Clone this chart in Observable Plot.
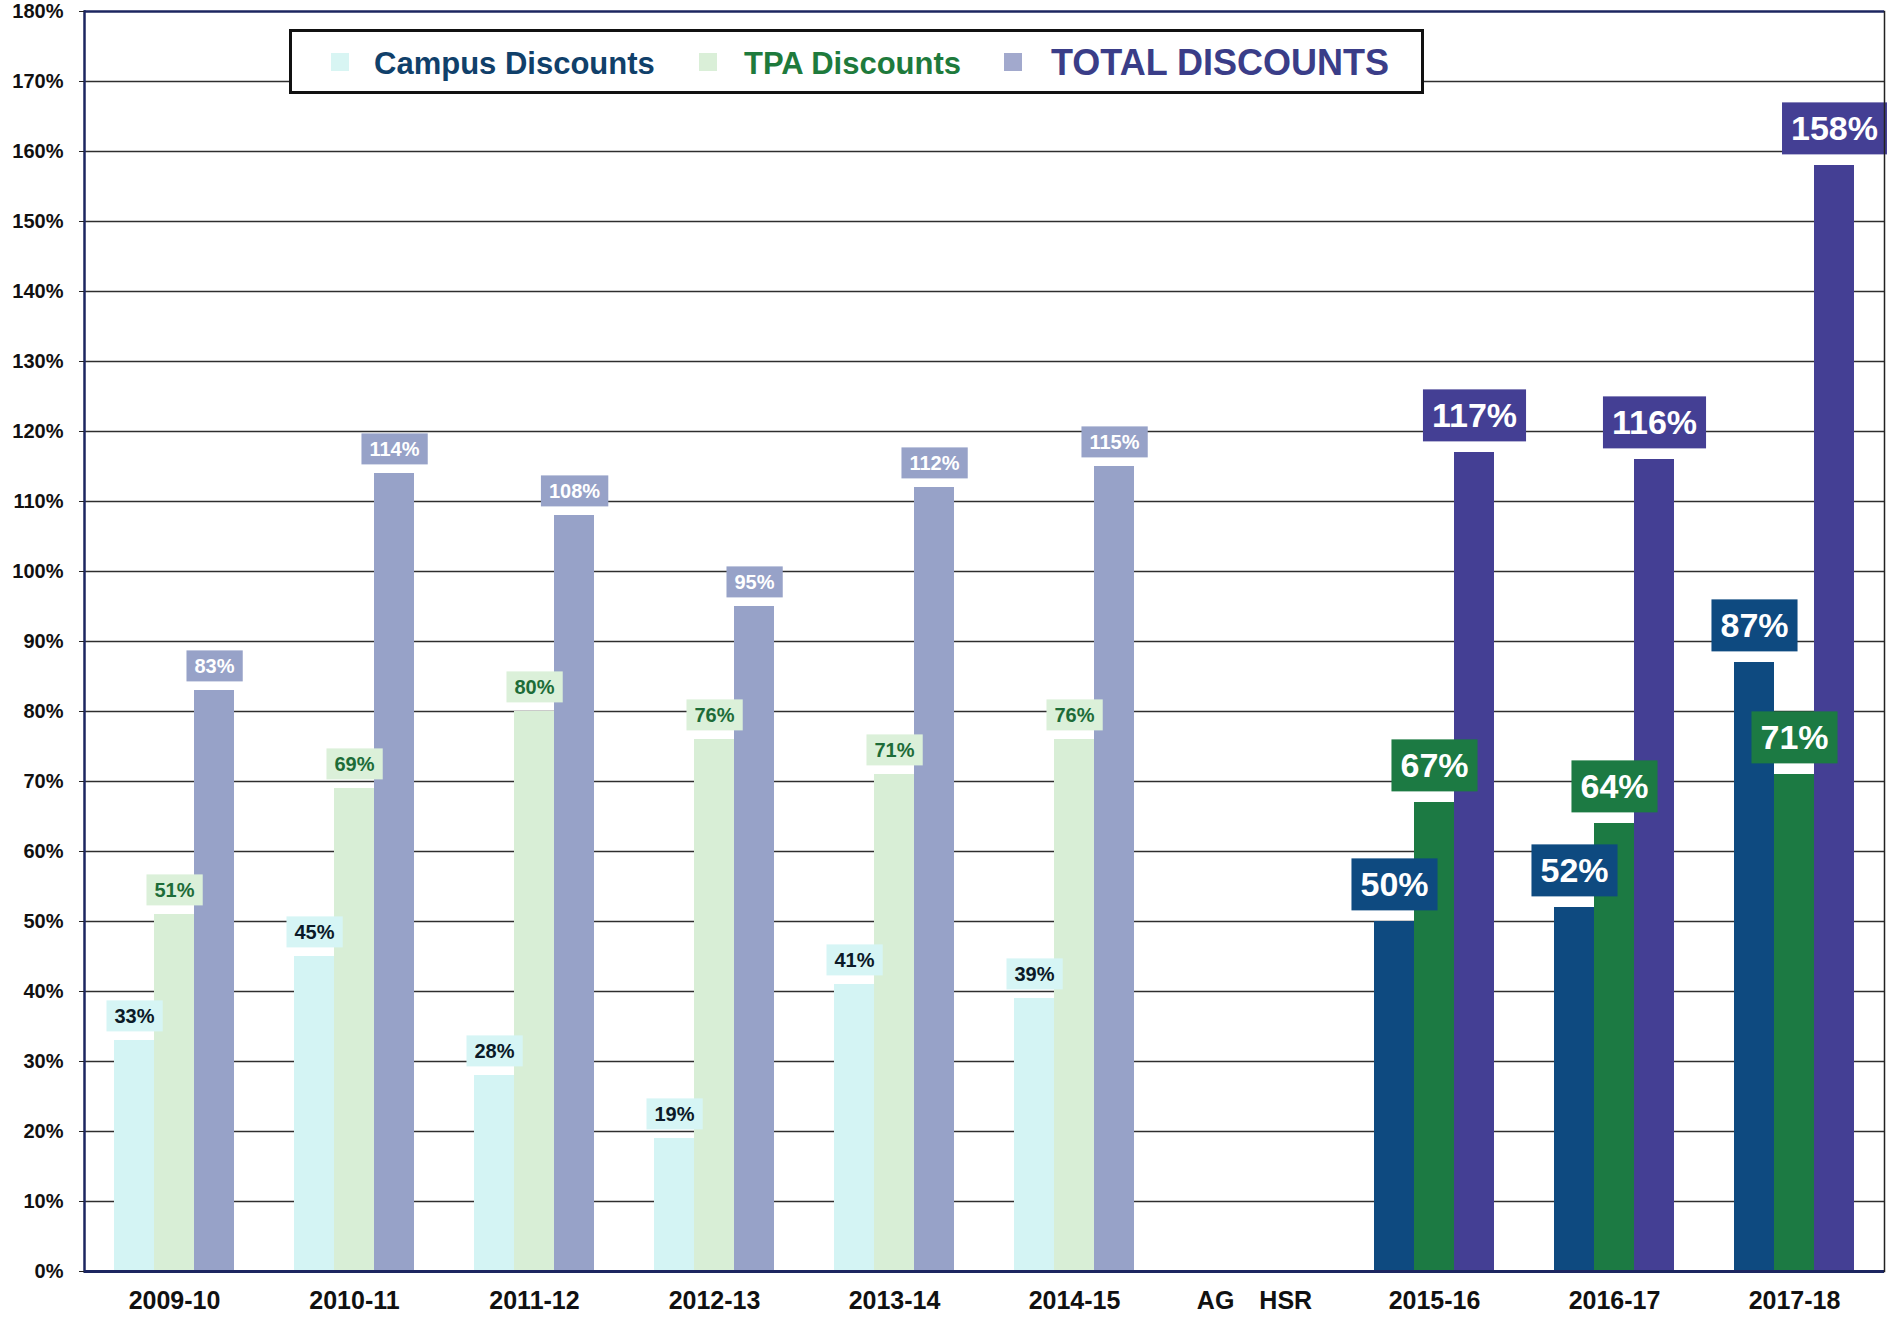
<!DOCTYPE html>
<html>
<head>
<meta charset="utf-8">
<script src="https://cdn.jsdelivr.net/npm/d3@7"></script>
<script src="https://cdn.jsdelivr.net/npm/@observablehq/plot@0.6"></script>
<style>
  html, body { margin: 0; padding: 0; background: #fff; }
  #wrap { position: relative; width: 1890px; height: 1317px; font-family: "Liberation Sans", Arial, sans-serif; }
  #chart svg { display: block; overflow: visible; }
  #legend { position: absolute; left: 289px; top: 29px; width: 1129px; height: 59px; border: 3px solid #111; background: #fff; }
  #legend .sw { position: absolute; top: 50%; width: 18px; height: 18px; transform: translateY(-50%); }
  #legend .lt { position: absolute; top: 50%; transform: translateY(-46%); font-weight: bold; white-space: nowrap; line-height: 1; }
</style>
</head>
<body>
<div id="wrap">
  <div id="chart"></div>
  <div id="legend"></div>
</div>
<script>
// ---- data ----
const years = ["2009-10", "2010-11", "2011-12", "2012-13", "2013-14", "2014-15", "AG HSR", "2015-16", "2016-17", "2017-18"];
const periods = ["old", "old", "old", "old", "old", "old", "gap", "new", "new", "new"];
const campusDiscounts = [33, 45, 28, 19, 41, 39, null, 50, 52, 87];
const tpaDiscounts = [51, 69, 80, 76, 71, 76, null, 67, 64, 71];
const totalDiscounts = [83, 114, 108, 95, 112, 115, null, 117, 116, 158];
const seriesNames = ["Campus Discounts", "TPA Discounts", "TOTAL DISCOUNTS"];
const yTicks = [0, 10, 20, 30, 40, 50, 60, 70, 80, 90, 100, 110, 120, 130, 140, 150, 160, 170, 180];

// ---- styles ----
const barColors = {
  "Campus Discounts|old": "#d4f4f4",
  "TPA Discounts|old": "#d8eed6",
  "TOTAL DISCOUNTS|old": "#97a2c8",
  "Campus Discounts|new": "#0e4a80",
  "TPA Discounts|new": "#1c7a43",
  "TOTAL DISCOUNTS|new": "#443f94"
};
const labelText = {
  "Campus Discounts|old": "#0b1a28",
  "TPA Discounts|old": "#1d6c38",
  "TOTAL DISCOUNTS|old": "#ffffff",
  "Campus Discounts|new": "#ffffff",
  "TPA Discounts|new": "#ffffff",
  "TOTAL DISCOUNTS|new": "#ffffff"
};
const navy = "#1c2660";

const valuesBySeries = [campusDiscounts, tpaDiscounts, totalDiscounts];
// every year (also the empty "AG HSR" slot) gets rows so that no facet is empty
const rows = [];
years.forEach((y, i) => {
  seriesNames.forEach((s, j) => {
    rows.push({year: y, series: s, value: valuesBySeries[j][i], period: periods[i], key: s + "|" + periods[i]});
  });
});
const valid = rows.filter(d => d.value != null);

const keys = Object.keys(barColors);
const labelMarks = keys.map(k => {
  const isNew = k.endsWith("|new");
  return Plot.text(valid.filter(d => d.key === k), {
    fx: "year", x: "series", y: "value",
    text: d => d.value + "%",
    dy: isNew ? -36 : -24,
    fontSize: isNew ? 34 : 20,
    fontWeight: "bold",
    fill: labelText[k],
    ariaDescription: "lbl:" + k
  });
});

const chart = Plot.plot({
  width: 1890,
  height: 1317,
  marginTop: 11,
  marginBottom: 46,
  marginLeft: 80,
  marginRight: 3,
  style: {fontFamily: "'Liberation Sans', Arial, sans-serif", background: "transparent", color: "#111"},
  fx: {domain: years, padding: 0, label: null},
  x: {domain: seriesNames, paddingInner: 0, paddingOuter: 0.72, axis: null},
  y: {domain: [0, 180], label: null},
  color: {domain: keys, range: keys.map(k => barColors[k])},
  marks: [
    Plot.gridY(yTicks.filter(t => t > 0 && t < 180), {stroke: "#2e2e2e", strokeOpacity: 1, strokeWidth: 1.6}),
    Plot.barY(rows, {fx: "year", x: "series", y: "value", fill: "key", filter: d => d.value != null}),
    ...labelMarks,
    Plot.ruleY([180], {stroke: navy, strokeWidth: 2.5}),
    Plot.ruleY([0], {stroke: navy, strokeWidth: 3}),
    Plot.frame({anchor: "left", facetAnchor: "left", stroke: navy, strokeWidth: 2.5}),
    Plot.frame({anchor: "right", facetAnchor: "right", stroke: "#222", strokeWidth: 1.5}),
    Plot.axisY({ticks: yTicks, tickFormat: d => d + "%", tickSize: 5, tickPadding: 16, fontSize: 20, fontWeight: "bold", label: null, stroke: "#222"}),
    Plot.axisFx({anchor: "bottom", tickSize: 0, tickPadding: 20, fontSize: 25, fontWeight: "bold", label: null,
      tickFormat: d => d.replace(" ", "\u2003")})
  ]
});
document.getElementById("chart").append(chart);

// label background boxes behind each value label
const bgColors = {};
keys.forEach(k => { bgColors[k] = barColors[k]; });
bgColors["Campus Discounts|old"] = "#d6f5f5";
bgColors["TPA Discounts|old"] = "#dbf0d9";
chart.querySelectorAll('g[aria-description^="lbl:"]').forEach(g => {
  const k = g.getAttribute("aria-description").slice(4);
  const isNew = k.endsWith("|new");
  const px = isNew ? 9 : 8, py = isNew ? 7 : 4.5;
  g.querySelectorAll("text").forEach(t => {
    const b = t.getBBox();
    const r = document.createElementNS("http://www.w3.org/2000/svg", "rect");
    r.setAttribute("x", b.x - px);
    r.setAttribute("y", b.y - py);
    r.setAttribute("width", b.width + 2 * px);
    r.setAttribute("height", b.height + 2 * py);
    r.setAttribute("fill", bgColors[k]);
    r.setAttribute("stroke", "none");
    const tr = t.getAttribute("transform");
    if (tr) r.setAttribute("transform", tr);
    t.parentNode.insertBefore(r, t);
  });
});

// legend (inside the plot area, top left)
const legendItems = [
  {name: seriesNames[0], swatch: "#d8f5f3", color: "#10406a", size: 31, sx: 39, tx: 82},
  {name: seriesNames[1], swatch: "#daefd8", color: "#1e7a3c", size: 31, sx: 407, tx: 452},
  {name: seriesNames[2], swatch: "#a2a9cd", color: "#3a3d88", size: 36, sx: 712, tx: 759}
];
const legend = document.getElementById("legend");
legendItems.forEach(it => {
  const sw = document.createElement("div");
  sw.className = "sw"; sw.style.left = it.sx + "px"; sw.style.background = it.swatch;
  const tx = document.createElement("div");
  tx.className = "lt"; tx.style.left = it.tx + "px"; tx.style.color = it.color; tx.style.fontSize = it.size + "px";
  tx.textContent = it.name;
  legend.append(sw, tx);
});
</script>
</body>
</html>
